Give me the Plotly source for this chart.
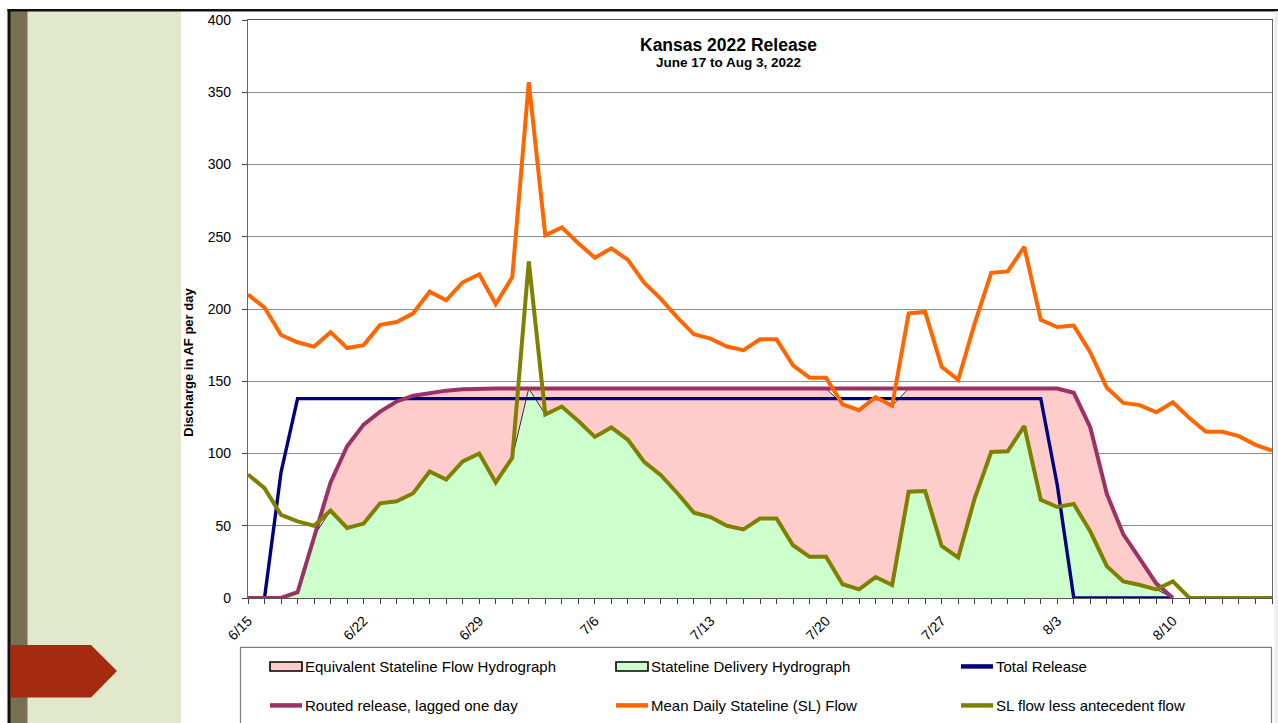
import plotly.graph_objects as go
import pandas as pd

# ---------------- data ----------------
dates = pd.date_range("2022-06-15", periods=63, freq="D")
tick_dates = ["2022-06-15", "2022-06-22", "2022-06-29", "2022-07-06", "2022-07-13",
              "2022-07-20", "2022-07-27", "2022-08-03", "2022-08-10"]
tick_labels = ["6/15", "6/22", "6/29", "7/6", "7/13", "7/20", "7/27", "8/3", "8/10"]

total_release = [0, 0, 87, 138, 138, 138, 138, 138, 138, 138,
                 138, 138, 138, 138, 138, 138, 138, 138, 138, 138,
                 138, 138, 138, 138, 138, 138, 138, 138, 138, 138,
                 138, 138, 138, 138, 138, 138, 138, 138, 138, 138,
                 138, 138, 138, 138, 138, 138, 138, 138, 138, 78,
                 0, 0, 0, 0, 0, 0, 0]

routed_release = [0, 0, 0, 4, 43, 80, 105, 120, 129, 136,
                  140, 142, 143.5, 144.5, 145, 145, 145, 145, 145, 145,
                  145, 145, 145, 145, 145, 145, 145, 145, 145, 145,
                  145, 145, 145, 145, 145, 145, 145, 145, 145, 145,
                  145, 145, 145, 145, 145, 145, 145, 145, 145, 145,
                  142, 118, 72, 44, 27, 10, 0]

mean_sl_flow = [210, 201, 182, 177, 174, 184, 173, 175, 189, 191,
                197, 212, 206, 218.5, 224, 203.5, 222, 357, 251, 256.5,
                245.5, 235.5, 242, 234, 218, 207, 194, 182.5, 179.5, 174,
                171.5, 179, 179, 161, 152.5, 152.5, 134, 130, 139, 133,
                197, 198, 160, 151, 190, 225, 226, 243, 192.5, 187.5,
                188.5, 170, 145.5, 135, 133.5, 128.5, 135.5, 124.5, 115, 115,
                112, 106, 102]

sl_less_antecedent = [85.5, 76, 57.5, 53, 50, 60.5, 48.5, 51.5, 65.5, 67,
                      72.5, 87.5, 82, 94.5, 100, 80, 97, 233, 127, 132.5,
                      122.5, 111.5, 118, 109.5, 94, 85, 72.5, 59, 56, 50,
                      47.5, 55, 55, 36.5, 28.5, 28.5, 9.5, 6, 14.5, 9,
                      73.5, 74, 36, 28, 69, 101, 101.5, 119, 68, 63,
                      65, 46, 22, 11.5, 9, 6, 11.5, 0, 0, 0,
                      0, 0, 0]

# derived hydrographs
n_area = len(routed_release)
equiv_stateline = [min(mean_sl_flow[i], routed_release[i]) for i in range(n_area)]
stateline_delivery = [min(sl_less_antecedent[i], routed_release[i]) for i in range(n_area)]

# ---------------- colours ----------------
C_PINK = "#FFCCCC"
C_GREEN = "#CCFFCC"
C_NAVY = "#000080"
C_PURPLE = "#993366"
C_ORANGE = "#FF6600"
C_OLIVE = "#808000"
FONT = "Arial, Liberation Sans, sans-serif"

fig = go.Figure()
fig.add_trace(go.Scatter(x=dates[:n_area], y=equiv_stateline, mode="lines", fill="tozeroy",
                         fillcolor=C_PINK, line=dict(color="black", width=0.8),
                         name="Equivalent Stateline Flow Hydrograph", cliponaxis=False))
fig.add_trace(go.Scatter(x=dates[:n_area], y=stateline_delivery, mode="lines", fill="tozeroy",
                         fillcolor=C_GREEN, line=dict(color="black", width=0.8),
                         name="Stateline Delivery Hydrograph", cliponaxis=False))
fig.add_trace(go.Scatter(x=dates[:len(total_release)], y=total_release, mode="lines",
                         line=dict(color=C_NAVY, width=3.4), name="Total Release", cliponaxis=False))
fig.add_trace(go.Scatter(x=dates[:n_area], y=routed_release, mode="lines",
                         line=dict(color=C_PURPLE, width=4), name="Routed release, lagged one day",
                         cliponaxis=False))
fig.add_trace(go.Scatter(x=dates, y=mean_sl_flow, mode="lines",
                         line=dict(color=C_ORANGE, width=4), name="Mean Daily Stateline (SL) Flow",
                         cliponaxis=False))
fig.add_trace(go.Scatter(x=dates, y=sl_less_antecedent, mode="lines",
                         line=dict(color=C_OLIVE, width=4), name="SL flow less antecedent flow",
                         cliponaxis=False))

# ---------------- geometry helpers ----------------
W, H = 1278, 723
PL, PR, PT, PB = 248, 1272, 20, 598.5


def px(x):
    return (x - PL) / (PR - PL)


def py(y):
    return (PB - y) / (PB - PT)


shapes = []
# slide decorations
shapes.append(dict(type="rect", xref="paper", yref="paper", x0=px(27), x1=px(181), y0=py(730), y1=py(10),
                   fillcolor="#E1E8CB", line=dict(width=0), layer="above"))
shapes.append(dict(type="rect", xref="paper", yref="paper", x0=px(10), x1=px(27.5), y0=py(730), y1=py(10),
                   fillcolor="#7A6F53", line=dict(width=0), layer="above"))
shapes.append(dict(type="rect", xref="paper", yref="paper", x0=px(7.5), x1=px(10.5), y0=py(730), y1=py(9),
                   fillcolor="#111111", line=dict(width=0), layer="above"))
shapes.append(dict(type="rect", xref="paper", yref="paper", x0=px(7.5), x1=px(1278), y0=py(11.5), y1=py(9),
                   fillcolor="#111111", line=dict(width=0), layer="above"))
shapes.append(dict(type="rect", xref="paper", yref="paper", x0=px(1274.5), x1=px(1279), y0=py(730), y1=py(11.5),
                   fillcolor="#EEEEEE", line=dict(width=0), layer="above"))
arrow = "M {a},{b} L {c},{b} L {d},{e} L {c},{f} L {a},{f} Z".format(
    a=px(10.5), b=py(645.5), c=px(91), d=px(117), e=py(671.5), f=py(698))
shapes.append(dict(type="path", xref="paper", yref="paper", path=arrow,
                   fillcolor="#A52B10", line=dict(width=0), layer="above"))
# legend box
shapes.append(dict(type="rect", xref="paper", yref="paper", x0=px(240.5), x1=px(1271.5), y0=py(735), y1=py(648),
                   fillcolor="white", line=dict(color="#7F7F7F", width=1.2), layer="above"))

annotations = []
legend_items = [
    ("box", C_PINK, "Equivalent Stateline Flow Hydrograph", 270, 667),
    ("box", C_GREEN, "Stateline Delivery Hydrograph", 616, 667),
    ("line", C_NAVY, "Total Release", 961, 667),
    ("line", C_PURPLE, "Routed release, lagged one day", 270, 706),
    ("line", C_ORANGE, "Mean Daily Stateline (SL) Flow", 616, 706),
    ("line", C_OLIVE, "SL flow less antecedent flow", 961, 706),
]
for kind, col, label, x0, yc in legend_items:
    if kind == "box":
        shapes.append(dict(type="rect", xref="paper", yref="paper", x0=px(x0), x1=px(x0 + 32),
                           y0=py(yc + 4.5), y1=py(yc - 4.5), fillcolor=col,
                           line=dict(color="black", width=1.6), layer="above"))
    else:
        shapes.append(dict(type="line", xref="paper", yref="paper", x0=px(x0), x1=px(x0 + 32),
                           y0=py(yc), y1=py(yc), line=dict(color=col, width=4.5), layer="above"))
    annotations.append(dict(xref="paper", yref="paper", x=px(x0 + 33), y=py(yc), text=label,
                            showarrow=False, xanchor="left", yanchor="middle",
                            font=dict(family=FONT, size=15, color="black")))

# titles
annotations.append(dict(xref="paper", yref="paper", x=px(728), y=py(45), text="<b>Kansas 2022 Release</b>",
                        showarrow=False, xanchor="center", yanchor="middle",
                        font=dict(family=FONT, size=17.5, color="black")))
annotations.append(dict(xref="paper", yref="paper", x=px(728), y=py(62.5), text="<b>June 17 to Aug 3, 2022</b>",
                        showarrow=False, xanchor="center", yanchor="middle",
                        font=dict(family=FONT, size=13.5, color="black")))
annotations.append(dict(xref="paper", yref="paper", x=px(189), y=py(363), text="<b>Discharge in AF per day</b>",
                        showarrow=False, xanchor="center", yanchor="middle", textangle=-90,
                        font=dict(family=FONT, size=13, color="black")))

fig.update_layout(
    width=W, height=H,
    margin=dict(l=PL, r=W - PR, t=PT, b=H - PB, pad=0),
    paper_bgcolor="white", plot_bgcolor="white",
    showlegend=False,
    shapes=shapes, annotations=annotations,
    font=dict(family=FONT, color="black"),
    xaxis=dict(type="date", range=[dates[0], dates[-1]],
               tickmode="array", tickvals=tick_dates, ticktext=tick_labels,
               tickangle=-45, tickfont=dict(family=FONT, size=14, color="black"),
               ticks="outside", ticklen=5, tickwidth=1, tickcolor="#404040",
               ticklabelstandoff=3,
               minor=dict(dtick=86400000, tick0="2022-06-15", ticks="outside", ticklen=5,
                          tickwidth=1, tickcolor="#404040", showgrid=False),
               showgrid=False, showline=True, linecolor="#555555", linewidth=1.3, mirror=True,
               zeroline=False),
    yaxis=dict(range=[0, 400], dtick=50, tick0=0,
               tickfont=dict(family=FONT, size=14, color="black"),
               ticks="outside", ticklen=5, tickwidth=1, tickcolor="#404040",
               ticklabelstandoff=8,
               showgrid=True, gridcolor="#8C8C8C", gridwidth=1.3,
               showline=True, linecolor="#666666", linewidth=1.3, mirror=True,
               zeroline=False),
)

fig.write_html("out.html", config={"displayModeBar": False},
               post_script="document.body.style.margin='0';")
